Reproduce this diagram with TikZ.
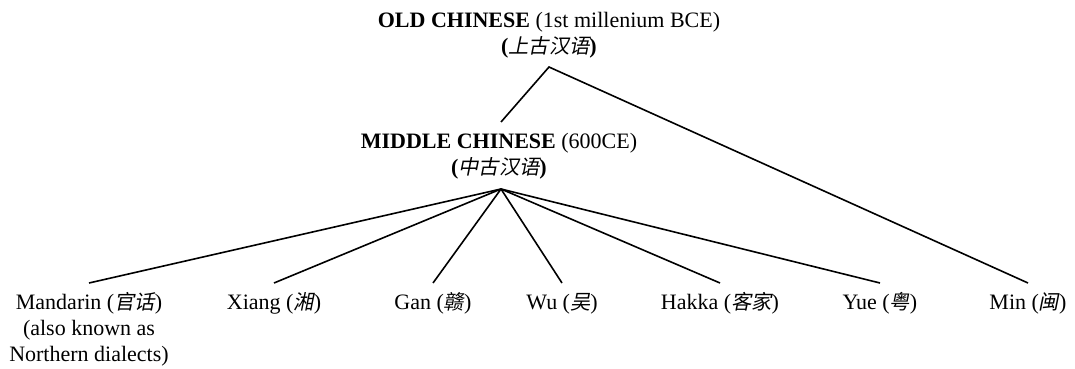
\documentclass[tikz,border=0pt]{standalone}
\usepackage{fontspec}
\setmainfont{Liberation Serif}
\newfontfamily\cjk[FakeSlant=0.2,Scale=0.92]{Noto Sans CJK SC}
\newcommand{\zh}[1]{{\cjk #1}}
\tikzset{
  lbl/.style={anchor=base,inner sep=0pt,align=center,font=\fontsize{22}{26}\selectfont},
  br/.style={line width=1.6pt,black}
}
\begin{document}
\begin{tikzpicture}[x=1pt,y=-1pt]
\useasboundingbox (0,0) rectangle (1075,369);
\node[lbl] (oc) at (549,54) {\textbf{OLD CHINESE} (1st millenium BCE)\\\textbf{(}\zh{上古汉语}\textbf{)}};
\node[lbl] (mc) at (499,174) {\textbf{MIDDLE CHINESE} (600CE)\\\textbf{(}\zh{中古汉语}\textbf{)}};
\node[lbl] (man) at (89,361) {Mandarin (\zh{官话})\\(also known as\\Northern dialects)};
\node[lbl] (xiang) at (274,309) {Xiang (\zh{湘})};
\node[lbl] (gan) at (433,309) {Gan (\zh{赣})};
\node[lbl] (wu) at (562,309) {Wu (\zh{吴})};
\node[lbl] (hakka) at (720,309) {Hakka (\zh{客家})};
\node[lbl] (yue) at (880,309) {Yue (\zh{粤})};
\node[lbl] (min) at (1028,309) {Min (\zh{闽})};
\coordinate (ocA) at ([yshift=-13pt]oc.base);
\coordinate (mcT) at ([xshift=2pt,yshift=52pt]mc.base);
\coordinate (mcA) at ([xshift=2pt,yshift=-15pt]mc.base);
\draw[br] (mcT) -- (ocA) -- ([yshift=26pt]min.base);
\draw[br] (mcA) -- ([yshift=78pt]man.base);
\foreach \n in {xiang,gan,wu,hakka,yue}
  \draw[br] (mcA) -- ([yshift=26pt]\n.base);
\end{tikzpicture}
\end{document}
